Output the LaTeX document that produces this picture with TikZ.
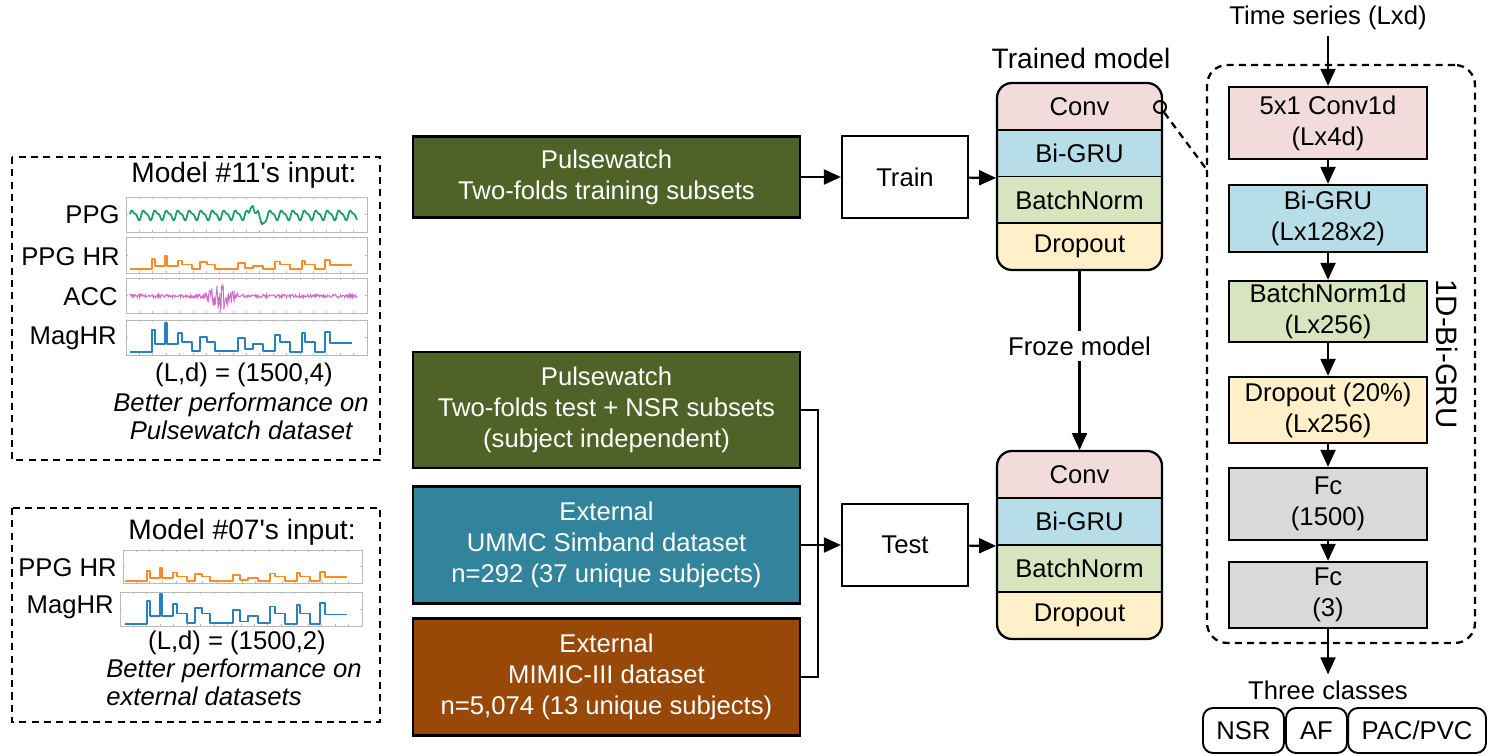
\documentclass[tikz,border=0pt]{standalone}
\usepackage{fontspec}
\setmainfont{Liberation Sans}
\usetikzlibrary{arrows.meta,positioning,calc}

\definecolor{pwgreen}{HTML}{4F6228}
\definecolor{ummcblue}{HTML}{31849B}
\definecolor{mimicbrown}{HTML}{984807}
\definecolor{convpink}{HTML}{F2DCDB}
\definecolor{grublue}{HTML}{B7DEE8}
\definecolor{bngreen}{HTML}{D7E4BD}
\definecolor{dropyellow}{HTML}{FFF0C9}
\definecolor{fcgray}{HTML}{D9D9D9}
\definecolor{ppgcol}{HTML}{1A9E62}
\definecolor{hrcol}{HTML}{FF8A1E}
\definecolor{acccol}{HTML}{CF6CC9}
\definecolor{magcol}{HTML}{2A7FBF}

% step trace of a heart-rate channel (local px units, up = negative)
\newcommand{\hrsteps}{(0,0) -- (21.7,0) -- (21.7,-21.7) -- (25,-21.7) -- (25,-7.4)
  -- (35,-7.4) -- (35,-28.4) -- (36.7,-28.4) -- (36.7,-7.4) -- (48.3,-7.4)
  -- (48.3,-19) -- (51.7,-19) -- (51.7,-10) -- (61.7,-10) -- (61.7,-0.7)
  -- (70,-0.7) -- (70,-15) -- (76.7,-15) -- (76.7,-10) -- (85,-10) -- (85,-0.7)
  -- (108.3,-0.7) -- (108.3,-13.4) -- (115,-13.4) -- (115,-2.4) -- (123.3,-2.4)
  -- (123.3,-7.4) -- (133.3,-7.4) -- (133.3,-0.7) -- (145,-0.7) -- (145,-16.7)
  -- (150,-16.7) -- (150,-10) -- (160,-10) -- (160,0) -- (171.7,0) -- (171.7,-18.4)
  -- (175,-18.4) -- (175,-10) -- (185,-10) -- (185,0) -- (195,0) -- (195,-20)
  -- (200,-20) -- (200,-9) -- (221.7,-9)}

% small axes box with ticks: x1 y1 x2 y2
\newcommand{\sigframe}[4]{%
  \draw[frameline] (#1,#2) rectangle (#3,#4);
  \foreach \t in {1,...,17} {
    \draw[frameline] ({#1+\t*(#3-#1)/18},#2) -- ++(0,2);
    \draw[frameline] ({#1+\t*(#3-#1)/18},#4) -- ++(0,-2);
  }
  \draw[frameline] (#1,{(#2+#4)/2}) -- ++(2,0);
  \draw[frameline] (#3,{(#2+#4)/2}) -- ++(-2,0);
}

\tikzset{
  every node/.style={font=\fontsize{14.6}{17.6}\selectfont},
  databox/.style={draw=black, line width=1.3pt, text=white, align=center,
    inner sep=0pt, minimum width=7.74cm},
  phasebox/.style={draw=black, line width=1.3pt, fill=white, inner sep=0pt,
    minimum width=2.52cm, minimum height=1.64cm},
  layer/.style={draw=black, line width=1.1pt, inner sep=0pt,
    minimum width=3.3cm, minimum height=0.94cm},
  netbox/.style={draw=black, line width=1.3pt, align=center, inner sep=0pt,
    minimum width=3.96cm},
  classbox/.style={draw=black, line width=1.1pt, rounded corners=0.2cm,
    inner sep=0pt, minimum height=0.9cm},
  conn/.style={line width=1.2pt, -{Triangle[length=0.34cm,width=0.3cm]}},
  wire/.style={line width=1.2pt},
  panel/.style={draw, line width=1.3pt, dash pattern=on 4pt off 3pt},
  chlabel/.style={anchor=east, inner sep=0pt},
  note/.style={font=\fontsize{14.6}{15.9}\selectfont\itshape, align=center},
  frameline/.style={gray!55, line width=0.5pt},
  trace/.style={line width=1pt, line join=round},
}

\begin{document}
\begin{tikzpicture}[x=0.02cm, y=-0.02cm]
  \useasboundingbox (0,0) rectangle (1496,756);

  %% Left: input panels
  %% Model #11
  \draw[panel] (12,157) rectangle (380,460);
  \node[font=\fontsize{16}{18}\selectfont] (inpeleven) at (244,175) {Model \#11\textquotesingle s input:};
  \node[chlabel] (lppg) at (120,215) {PPG};
  \node[chlabel] (lppghr) at (120,257) {PPG HR};
  \node[chlabel] (lacc) at (118,297) {ACC};
  \node[chlabel] (lmag) at (117,338) {MagHR};
  \sigframe{126}{197}{367}{232}
  \sigframe{126}{237}{367}{273}
  \sigframe{126}{278}{367}{313}
  \sigframe{126}{320}{367}{355}
  \draw[trace, ppgcol] plot[domain=130:357, samples=320]
    (\x, {215 - 4.2*sin(31.3*(\x-130)) - 1.6*sin(62.6*(\x-130)+30)
      - 13*max(0,1-abs(\x-253)/4) + 11*max(0,1-abs(\x-262)/4)});
  \begin{scope}[shift={(130,269)}, yscale=0.45]
    \draw[trace, hrcol] \hrsteps;
  \end{scope}
  \pgfmathsetseed{17}
  \draw[acccol, line width=0.5pt] plot[domain=130:357, samples=400]
    (\x, {296 + (1.8 + 14*max(0,1-abs(\x-222)/18))*rand});
  \begin{scope}[shift={(130,351.7)}]
    \draw[trace, magcol] \hrsteps;
  \end{scope}
  \node (ldeleven) at (244,375) {(L,d) = (1500,4)};
  \node[note] (noteeleven) at (241,416) {Better performance on\\Pulsewatch dataset};

  %% Model #07
  \draw[panel] (12,508) rectangle (380,722);
  \node[font=\fontsize{16}{18}\selectfont] (inpseven) at (242,532) {Model \#07\textquotesingle s input:};
  \node[chlabel] (lppghrb) at (117,568) {PPG HR};
  \node[chlabel] (lmagb) at (114,607) {MagHR};
  \sigframe{123}{550}{362}{583}
  \sigframe{120}{592}{362}{626}
  \begin{scope}[shift={(125,581)}, yscale=0.45]
    \draw[trace, hrcol] \hrsteps;
  \end{scope}
  \begin{scope}[shift={(125,624)}, yscale=1.05]
    \draw[trace, magcol] \hrsteps;
  \end{scope}
  \node (ldseven) at (237,643) {(L,d) = (1500,2)};
  \node[note, align=left, anchor=west, inner sep=0pt] (noteseven) at (106,682)
    {Better performance on\\external datasets};

  %% Middle: datasets
  \node[databox, fill=pwgreen, minimum height=1.62cm] (trainset) at (606.5,177)
    {Pulsewatch\\Two-folds training subsets};
  \node[databox, fill=pwgreen, minimum height=2.32cm] (pwtest) at (606.5,410)
    {Pulsewatch\\Two-folds test + NSR subsets\\(subject independent)};
  \node[databox, fill=ummcblue, minimum height=2.34cm] (ummc) at (606.5,545)
    {External\\UMMC Simband dataset\\n=292 (37 unique subjects)};
  \node[databox, fill=mimicbrown, minimum height=2.34cm] (mimic) at (606.5,677)
    {External\\MIMIC-III dataset\\n=5,074 (13 unique subjects)};

  \node[phasebox] (train) at (905,177) {Train};
  \node[phasebox] (test) at (905,545) {Test};

  %% Trained model
  \node[font=\fontsize{16}{18}\selectfont] (trainedlbl) at (1081,58) {Trained model};
  \begin{scope}
    \clip[rounded corners=0.3cm] (997,83) rectangle (1162,270);
    \node[layer, fill=convpink] (tconv) at (1079.5,106.5) {Conv};
    \node[layer, fill=grublue] (tgru) at (1079.5,153.5) {Bi-GRU};
    \node[layer, fill=bngreen] (tbn) at (1079.5,200) {BatchNorm};
    \node[layer, fill=dropyellow] (tdrop) at (1079.5,246.5) {Dropout};
  \end{scope}
  \draw[line width=1.3pt, rounded corners=0.3cm] (997,83) rectangle (1162,270);

  %% Frozen model
  \begin{scope}
    \clip[rounded corners=0.3cm] (997,451) rectangle (1162,639);
    \node[layer, fill=convpink] (sconv) at (1079.5,474.5) {Conv};
    \node[layer, fill=grublue] (sgru) at (1079.5,521.5) {Bi-GRU};
    \node[layer, fill=bngreen] (sbn) at (1079.5,568.5) {BatchNorm};
    \node[layer, fill=dropyellow] (sdrop) at (1079.5,615.5) {Dropout};
  \end{scope}
  \draw[line width=1.3pt, rounded corners=0.3cm] (997,451) rectangle (1162,639);

  %% Connectors
  \draw[conn] (trainset) -- (train);
  \draw[conn] (train) -- (tgru.south west);
  \coordinate (merge) at (818,545);
  \draw[wire] (pwtest.east) -| (merge);
  \draw[wire] (mimic.east) -| (merge);
  \draw[conn] (ummc) -- (test);
  \draw[conn] (test) -- (sgru.south west);
  \draw[conn] (tdrop) -- (sconv)
    node[pos=0.42, fill=white, inner sep=3pt] (froze) {Froze model};

  %% Right: 1D-Bi-GRU detail
  \node[panel, rounded corners=0.4cm, inner sep=0pt, minimum width=5.36cm,
    minimum height=11.56cm] (gru) at (1341,354) {};
  \node[rotate=-90, font=\fontsize{16.8}{18}\selectfont] (grulbl) at (1447,354) {1D-Bi-GRU};
  \node[circle, draw, line width=1.1pt, minimum size=0.24cm, inner sep=0pt] (lens)
    at (1160,107) {};
  \coordinate (hook) at (1207,170);
  \draw[panel] (lens) -- (hook);

  \node (tseries) at (1328,18) {Time series (Lxd)};
  \node[netbox, fill=convpink, minimum height=1.44cm] (conv1d) at (1328,123)
    {5x1 Conv1d\\(Lx4d)};
  \node[netbox, fill=grublue, minimum height=1.34cm] (bigru) at (1328,218.5)
    {Bi-GRU\\(Lx128x2)};
  \node[netbox, fill=bngreen, minimum height=1.22cm] (bnorm) at (1328,311.5)
    {BatchNorm1d\\(Lx256)};
  \node[netbox, fill=dropyellow, minimum height=1.32cm] (dropout) at (1328,410)
    {Dropout (20\%)\\(Lx256)};
  \node[netbox, fill=fcgray, minimum height=1.44cm] (fcone) at (1328,504)
    {Fc\\(1500)};
  \node[netbox, fill=fcgray, minimum height=1.32cm] (fctwo) at (1328,595)
    {Fc\\(3)};
  \draw[conn] (tseries) -- (conv1d);
  \foreach \a/\b in {conv1d/bigru, bigru/bnorm, bnorm/dropout, dropout/fcone, fcone/fctwo}
    \draw[conn] (\a) -- (\b);

  %% Output classes
  \node (classes) at (1328,690) {Three classes};
  \draw[conn] (fctwo) -- (classes);
  \node[classbox, minimum width=1.62cm] (nsr) at (1243.5,730.5) {NSR};
  \node[classbox, minimum width=1.22cm] (af) at (1316.5,730.5) {AF};
  \node[classbox, minimum width=2.76cm] (pacpvc) at (1417,730.5) {PAC/PVC};
\end{tikzpicture}
\end{document}
